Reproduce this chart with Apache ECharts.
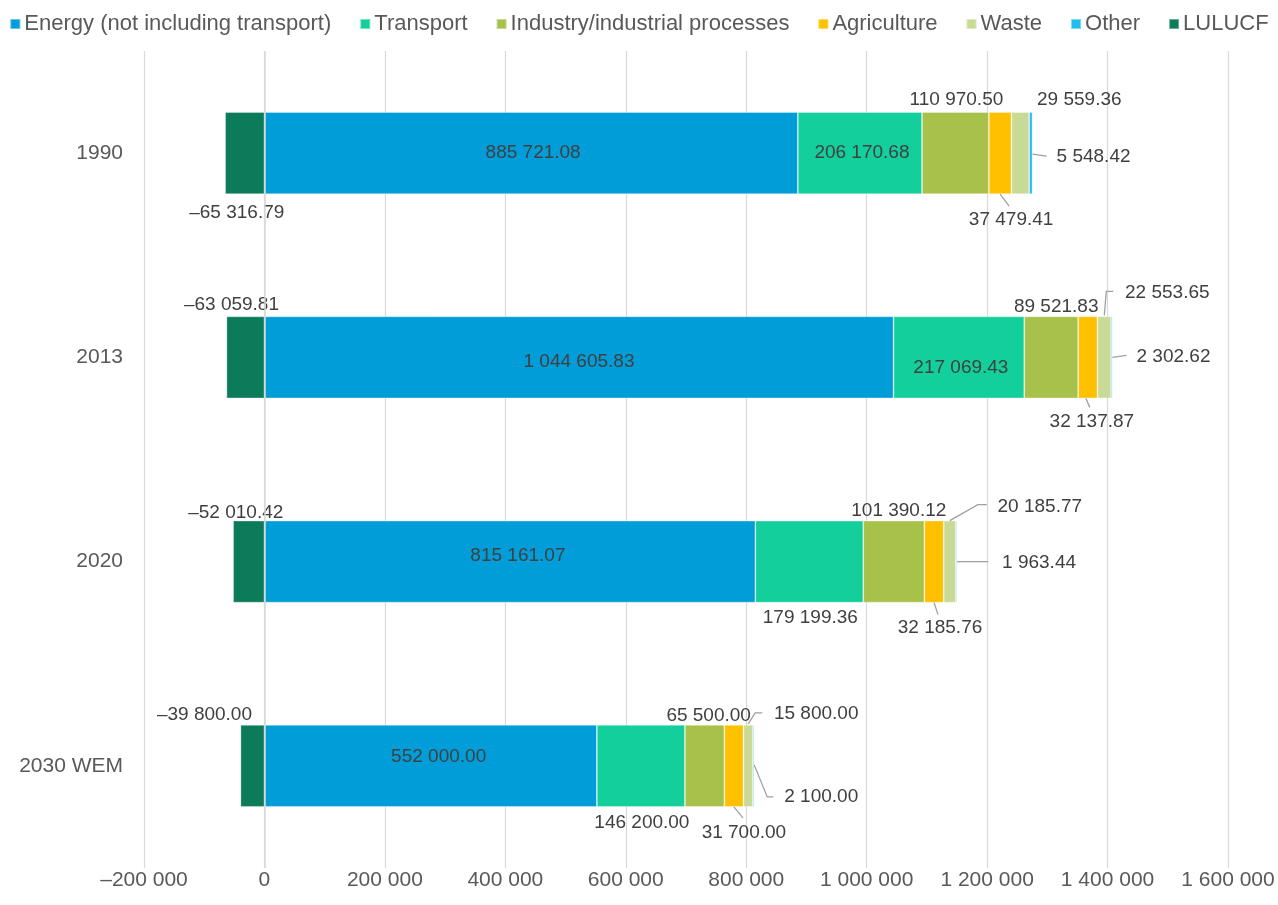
<!DOCTYPE html>
<html>
<head>
<meta charset="utf-8">
<title>Greenhouse gas emissions by sector</title>
<script src="https://cdn.jsdelivr.net/npm/echarts@6/dist/echarts.min.js"></script>
<style>
  html, body { margin: 0; padding: 0; background: #ffffff; }
  #chart { width: 1278px; height: 905px; }
</style>
</head>
<body>
<div id="chart"></div>
<script>
// Years shown on the category axis (top to bottom)
const CATEGORIES = ['1990', '2013', '2020', '2030 WEM'];

// Emissions per sector, one value per year
const SERIES_NAMES = [
  'Energy (not including transport)', 'Transport', 'Industry/industrial processes',
  'Agriculture', 'Waste', 'Other', 'LULUCF'
];
const ENERGY      = [885721.08, 1044605.83, 815161.07, 552000.00];
const TRANSPORT   = [206170.68, 217069.43, 179199.36, 146200.00];
const INDUSTRY    = [110970.50, 89521.83, 101390.12, 65500.00];
const AGRICULTURE = [37479.41, 32137.87, 32185.76, 31700.00];
const WASTE       = [29559.36, 22553.65, 20185.77, 15800.00];
const OTHER       = [5548.42, 2302.62, 1963.44, 2100.00];
const LULUCF      = [-65316.79, -63059.81, -52010.42, -39800.00];
const SERIES_VALUES = [ENERGY, TRANSPORT, INDUSTRY, AGRICULTURE, WASTE, OTHER, LULUCF];

// Value axis ticks
const X_MIN = -200000;
const X_MAX = 1600000;
const X_STEP = 200000;

const COLORS = ['#009dd9', '#13cf9b', '#a8c14b', '#ffc000', '#c9da97', '#1fbef1', '#0c7b5a'];
const BAR_HEIGHT = 82;
const LINE_COLOR = '#a0a0a0';

// Label placement per series and year: [anchor on the bar segment, dx, dy, leader line points]
const PLACE = [
  [['in', 2, 0], ['in', 0, 4], ['in', 8, -6], ['in', 8, -9]],
  [['in', 2, 0], ['in', 2, 10], ['bottom', 1, 15], ['bottom', 1, 16]],
  [['top', 1, -12], ['top', 5, -10], ['top', 5, -10], ['top', 4, -9]],
  [['bottom', 11, 26, [[0, 0], [9, 12]]], ['bottom', 4, 23, [[-2, 0], [2, 9]]],
   ['bottom', 6, 25, [[0, 0], [4, 12]]], ['bottom', 10, 26, [[0, 0], [9, 11]]]],
  [['top', 59, -12], ['top', 63, -24, [[0, -1], [2, -25], [9, -25]]],
   ['top', 90, -14, [[0, 0], [28, -16], [37, -16]]], ['top', 68, -11, [[0, -1], [7, -12], [14, -12]]]],
  [['right', 61, 4, [[0, 1], [14, 3]]], ['right', 61, -1, [[0, 0], [14, -2]]],
   ['right', 82, 1, [[0, 0], [31, 0]]], ['right', 67, 31, [[0, -1], [13, 31], [19, 31]]]],
  [['bottom', -8, 19], ['top', -14, -12], ['top', -13, -8], ['top', -48, -10]]
];

function groupDigits(intStr) {
  return intStr.replace(/\B(?=(\d{3})+(?!\d))/g, ' ');
}
function fmtValue(v) {
  const s = Math.abs(v).toFixed(2).split('.');
  return (v < 0 ? '\u2013' : '') + groupDigits(s[0]) + '.' + s[1];
}
function fmtTick(v) {
  if (v === 0) return '0';
  return (v < 0 ? '\u2013' : '') + groupDigits(String(Math.abs(Math.round(v))));
}

function anchorOf(kind, r) {
  const cx = r.x + r.width / 2;
  const cy = r.y + r.height / 2;
  if (kind === 'top') return [cx, r.y];
  if (kind === 'bottom') return [cx, r.y + r.height];
  if (kind === 'right') return [r.x + r.width, cy];
  return [cx, cy];
}

function labelLayout(params) {
  const row = PLACE[params.seriesIndex];
  const p = row && row[params.dataIndex];
  if (!p) return {};
  const a = anchorOf(p[0], params.rect);
  return { x: a[0] + p[1], y: a[1] + p[2], align: 'center', verticalAlign: 'middle' };
}

// Items that get a leader line: [0, year index, series index]
const leaderItems = [];
PLACE.forEach(function (row, s) {
  row.forEach(function (p, c) { if (p[3]) leaderItems.push([0, c, s]); });
});

const FONT = "'Liberation Sans', Arial, sans-serif";

const barSeries = SERIES_NAMES.map(function (name, i) {
  return {
    name: name,
    type: 'bar',
    stack: 'total',
    barWidth: BAR_HEIGHT,
    data: SERIES_VALUES[i],
    itemStyle: { color: COLORS[i], borderColor: 'rgba(255,255,255,0.4)', borderWidth: 0.8 },
    label: {
      show: true,
      position: 'inside',
      color: '#404040',
      fontSize: 19,
      fontFamily: FONT,
      formatter: function (p) { return fmtValue(p.value); }
    },
    labelLayout: labelLayout,
    emphasis: { disabled: true },
    markLine: i === 0 ? {
      silent: true,
      symbol: 'none',
      label: { show: false },
      lineStyle: { color: '#d9d9d9', width: 1.5, type: 'solid' },
      data: [{ xAxis: 0 }],
      z: 10
    } : undefined
  };
});

const leaderSeries = {
  type: 'custom',
  silent: true,
  z: 5,
  encode: { x: 0, y: 1 },
  data: leaderItems,
  renderItem: function (params, api) {
    const c = api.value(1);
    const s = api.value(2);
    let start = 0;
    for (let k = 0; k < s; k++) start += SERIES_VALUES[k][c];
    const end = start + SERIES_VALUES[s][c];
    const p0 = api.coord([start, c]);
    const p1 = api.coord([end, c]);
    const rect = { x: p0[0], y: p0[1] - BAR_HEIGHT / 2, width: p1[0] - p0[0], height: BAR_HEIGHT };
    const place = PLACE[s][c];
    const a = anchorOf(place[0], rect);
    const pts = place[3].map(function (q) { return [a[0] + q[0], a[1] + q[1]]; });
    return {
      type: 'polyline',
      shape: { points: pts },
      style: { stroke: LINE_COLOR, lineWidth: 1.3, fill: null }
    };
  }
};

const chart = echarts.init(document.getElementById('chart'), null, { renderer: 'canvas' });
chart.setOption({
  animation: false,
  backgroundColor: '#ffffff',
  textStyle: { fontFamily: FONT },
  legend: {
    top: 8,
    left: 'center',
    icon: 'rect',
    itemWidth: 10,
    itemHeight: 10,
    itemGap: 28,
    data: SERIES_NAMES,
    textStyle: { color: '#595959', fontSize: 22, fontFamily: FONT, padding: [0, 0, 0, -1] }
  },
  grid: { left: 144, right: 50, top: 51, bottom: 37, containLabel: false },
  xAxis: {
    type: 'value',
    min: X_MIN,
    max: X_MAX,
    interval: X_STEP,
    axisLine: { show: false },
    axisTick: { show: false },
    axisLabel: {
      color: '#595959',
      fontSize: 21,
      fontFamily: FONT,
      margin: 2,
      formatter: fmtTick
    },
    splitLine: { show: true, lineStyle: { color: '#d9d9d9', width: 1.2 } }
  },
  yAxis: {
    type: 'category',
    inverse: true,
    data: CATEGORIES,
    axisLine: { show: false },
    axisTick: { show: false },
    axisLabel: { color: '#595959', fontSize: 21, fontFamily: FONT, margin: 21 }
  },
  series: barSeries.concat([leaderSeries])
});
</script>
</body>
</html>
